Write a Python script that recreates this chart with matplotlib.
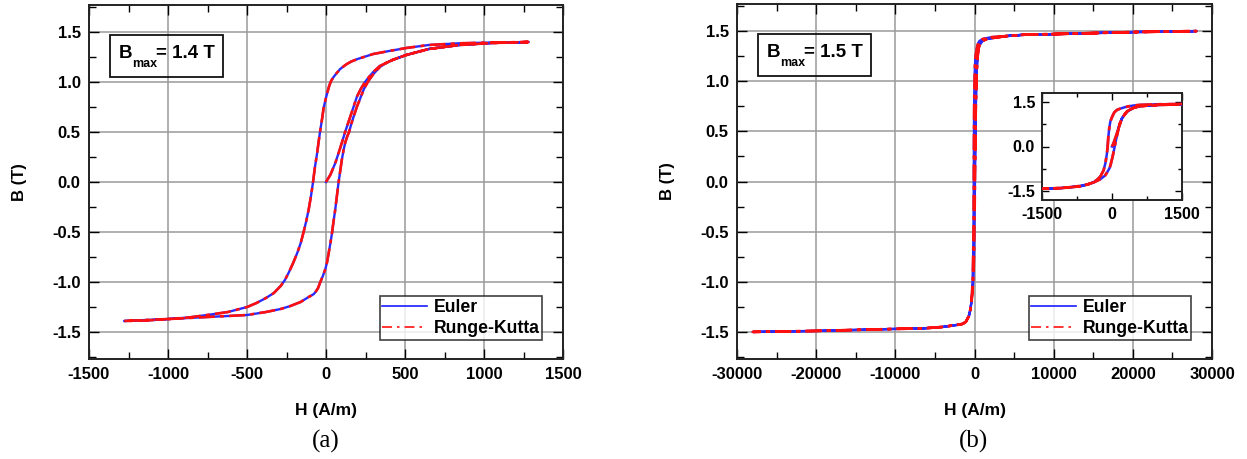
import matplotlib
matplotlib.use('Agg')
import matplotlib.pyplot as plt
from matplotlib.patches import Rectangle
from matplotlib.lines import Line2D
from matplotlib.ticker import MultipleLocator

plt.rcParams['font.family'] = 'Liberation Sans'
plt.rcParams['font.weight'] = 'bold'
plt.rcParams['axes.labelweight'] = 'bold'
plt.rcParams['axes.unicode_minus'] = False

# ---- data (a): Bmax = 1.4 T ----
Ha_init = [0, 27, 59, 90, 121, 153, 195, 220, 247, 272, 299, 341, 420, 508, 650, 843, 1050, 1280]
Ba_init = [0, 0.07, 0.19, 0.34, 0.50, 0.65, 0.85, 0.93, 1.00, 1.05, 1.10, 1.16, 1.22, 1.27, 1.33,
           1.37, 1.39, 1.40]

Ha_desc = [1280, 1050, 843, 650, 508, 400, 299, 200, 160, 132, 110, 90, 68, 48, 32, 20, 6, -5,
           -15, -25, -36, -46, -56, -70, -82, -95, -109, -125, -140, -160, -182, -208, -234, -260,
           -287, -330, -380, -440, -499, -620, -752, -870, -994, -1140, -1278]
Ba_desc = [1.40, 1.395, 1.387, 1.37, 1.34, 1.31, 1.28, 1.23, 1.205, 1.18, 1.155, 1.13, 1.09, 1.05,
           1.01, 0.96, 0.88, 0.81, 0.74, 0.63, 0.52, 0.41, 0.29, 0.15, 0.0, -0.14, -0.27, -0.39,
           -0.49, -0.61, -0.71, -0.81, -0.90, -0.98, -1.04, -1.11, -1.16, -1.21, -1.25, -1.30,
           -1.33, -1.355, -1.37, -1.38, -1.39]

Ha_asc = [-1278, -1140, -994, -870, -752, -620, -499, -380, -287, -225, -161, -130, -110, -92,
          -77, -62, -50, -36, -20, -4, 7, 17, 28, 38, 48, 59, 69, 79, 90, 100, 110, 121, 133, 146,
          160, 174, 195, 215, 240, 268, 300, 341, 380, 420, 508, 650, 843, 1050, 1280]
Ba_asc = [-1.39, -1.385, -1.37, -1.36, -1.35, -1.34, -1.33, -1.30, -1.27, -1.24, -1.20, -1.17,
          -1.15, -1.135, -1.12, -1.09, -1.06, -1.00, -0.94, -0.87, -0.80, -0.71, -0.61, -0.51,
          -0.39, -0.27, -0.14, -0.01, 0.11, 0.22, 0.31, 0.39, 0.45, 0.50, 0.58, 0.65, 0.75, 0.83,
          0.93, 1.01, 1.08, 1.15, 1.19, 1.22, 1.27, 1.33, 1.37, 1.39, 1.40]

# ---- data (b): Bmax = 1.5 T ----
Hb_init = [0, 30, 57, 107, 157, 214, 321, 464, 607, 1000, 1500, 2200, 4000, 6500, 10000, 15000,
           20000, 28000]
Bb_init = [0, 0.10, 0.22, 0.45, 0.73, 0.95, 1.18, 1.31, 1.36, 1.40, 1.42, 1.43, 1.45, 1.465, 1.47,
           1.48, 1.49, 1.50]

Hb_desc = [28000, 20000, 15000, 10000, 6500, 4000, 2200, 1500, 1000, 607, 464, 350, 250, 170,
           107, 50, 21, -10, -36, -60, -80, -93, -110, -140, -180, -250, -320, -393, -520, -679,
           -1107, -1500, -2200, -4000, -6500, -10000, -15000, -20000, -28000]
Bb_desc = [1.50, 1.49, 1.48, 1.47, 1.465, 1.45, 1.44, 1.43, 1.42, 1.40, 1.38, 1.35, 1.31, 1.27,
           1.23, 1.15, 1.06, 0.95, 0.84, 0.60, 0.30, 0.0, -0.25, -0.55, -0.80, -1.01, -1.12,
           -1.20, -1.28, -1.34, -1.40, -1.42, -1.43, -1.45, -1.465, -1.47, -1.48, -1.49, -1.50]

Hb_asc = [-28000, -20000, -15000, -10000, -6500, -4000, -2200, -1500, -1100, -893, -700, -536,
          -380, -250, -150, -93, -50, -21, 10, 36, 60, 86, 115, 143, 180, 214, 280, 357, 464, 607,
          1000, 1500, 2200, 4000, 6500, 10000, 15000, 20000, 28000]
Bb_asc = [-1.50, -1.49, -1.48, -1.47, -1.465, -1.45, -1.43, -1.42, -1.40, -1.37, -1.33, -1.28,
          -1.20, -1.10, -0.98, -0.84, -0.72, -0.56, -0.36, -0.17, 0.02, 0.22, 0.42, 0.62, 0.80,
          0.95, 1.10, 1.21, 1.30, 1.36, 1.40, 1.42, 1.43, 1.45, 1.465, 1.47, 1.48, 1.49, 1.50]

Ha = Ha_init + Ha_desc + Ha_asc
Ba = Ba_init + Ba_desc + Ba_asc
Hb = Hb_init + Hb_desc + Hb_asc
Bb = Bb_init + Bb_desc + Bb_asc

W, H = 1247, 459
fig = plt.figure(figsize=(W / 100, H / 100), dpi=100)
axA = fig.add_axes([89 / W, 1 - 359 / H, 474 / W, 354 / H])
axB = fig.add_axes([737 / W, 1 - 359 / H, 475 / W, 355 / H])
axI = fig.add_axes([1042 / W, 1 - 200 / H, 140 / W, 107 / H])


def style_axes(ax, xmaj, xmin, ymaj, ymin, fs, grid=True):
    ax.xaxis.set_major_locator(MultipleLocator(xmaj))
    ax.xaxis.set_minor_locator(MultipleLocator(xmin))
    ax.yaxis.set_major_locator(MultipleLocator(ymaj))
    ax.yaxis.set_minor_locator(MultipleLocator(ymin))
    ax.tick_params(which='both', direction='in', top=True, right=True, labelsize=fs,
                   width=1.0, pad=6)
    ax.tick_params(which='major', length=7)
    ax.tick_params(which='minor', length=5)
    for s in ax.spines.values():
        s.set_linewidth(1.4)
        s.set_color('#222222')
    if grid:
        ax.grid(True, which='major', color='#9a9a9a', lw=1.1)
        ax.set_axisbelow(True)


def curves(ax, h, b, lw_b=1.7, lw_r=1.9):
    ax.plot(h, b, color='#2a2aff', lw=lw_b, zorder=3)
    ax.plot(h, b, color='#ff1010', lw=lw_r, dashes=(6, 2, 1.5, 2), zorder=4)


def bmax_box(ax, value, axw, axh):
    ax.add_patch(Rectangle((21 / axw, 1 - 72 / axh), 113 / axw, 42 / axh, transform=ax.transAxes,
                           fill=False, ec='#111111', lw=1.3, zorder=6))
    ax.text(30 / axw, 1 - 53 / axh, 'B', transform=ax.transAxes, fontsize=13.5,
            va='baseline', zorder=7)
    ax.text(43 / axw, 1 - 62 / axh, 'max', transform=ax.transAxes, fontsize=9,
            va='baseline', zorder=7)
    ax.text(67 / axw, 1 - 53 / axh, '= %s T' % value, transform=ax.transAxes, fontsize=13.5,
            va='baseline', zorder=7)


def legend(ax):
    handles = [Line2D([], [], color='#1a1aff', lw=1.2),
               Line2D([], [], color='#ff1010', lw=1.2, dashes=(6, 3, 1.5, 3))]
    lg = ax.legend(handles, ['Euler', 'Runge-Kutta'], loc='lower right',
                   bbox_to_anchor=(0.956, 0.054), fontsize=12.7,
                   frameon=True, fancybox=False, borderpad=0.15, labelspacing=0.25,
                   handlelength=2.55, handletextpad=0.35, borderaxespad=0)
    lg.get_frame().set_edgecolor('#111111')
    lg.get_frame().set_linewidth(1.2)


# panel (a)
curves(axA, Ha, Ba)
axA.set_xlim(-1500, 1500)
axA.set_ylim(-1.77, 1.77)
style_axes(axA, 500, 250, 0.5, 0.25, 12)
axA.set_xlabel('H (A/m)', fontsize=12.5)
axA.set_ylabel('B (T)', fontsize=12)
axA.xaxis.set_label_coords(0.5, -0.125)
axA.yaxis.set_label_coords(-0.13, 0.5)
bmax_box(axA, '1.4', 474, 354)
legend(axA)

# panel (b)
curves(axB, Hb, Bb)
axB.set_xlim(-30000, 30000)
axB.set_ylim(-1.77, 1.77)
style_axes(axB, 10000, 5000, 0.5, 0.25, 12)
axB.set_xlabel('H (A/m)', fontsize=12.5)
axB.set_ylabel('B (T)', fontsize=12)
axB.xaxis.set_label_coords(0.5, -0.125)
axB.yaxis.set_label_coords(-0.13, 0.5)
bmax_box(axB, '1.5', 475, 355)
legend(axB)

# inset in (b)
curves(axI, Hb, Bb, lw_b=1.8, lw_r=2.0)
axI.set_xlim(-1500, 1500)
axI.set_ylim(-1.8, 1.8)
style_axes(axI, 1500, 750, 1.5, 0.75, 11.5, grid=False)
axI.tick_params(which='major', length=5, pad=5)
axI.tick_params(which='minor', length=3)
axI.set_zorder(10)

fig.text(326 / W, 1 - 441 / H, '(a)', ha='center', va='center', fontsize=18,
         family='Liberation Serif', weight='normal')
fig.text(974 / W, 1 - 441 / H, '(b)', ha='center', va='center', fontsize=18,
         family='Liberation Serif', weight='normal')

fig.savefig('out.png', dpi=100)
